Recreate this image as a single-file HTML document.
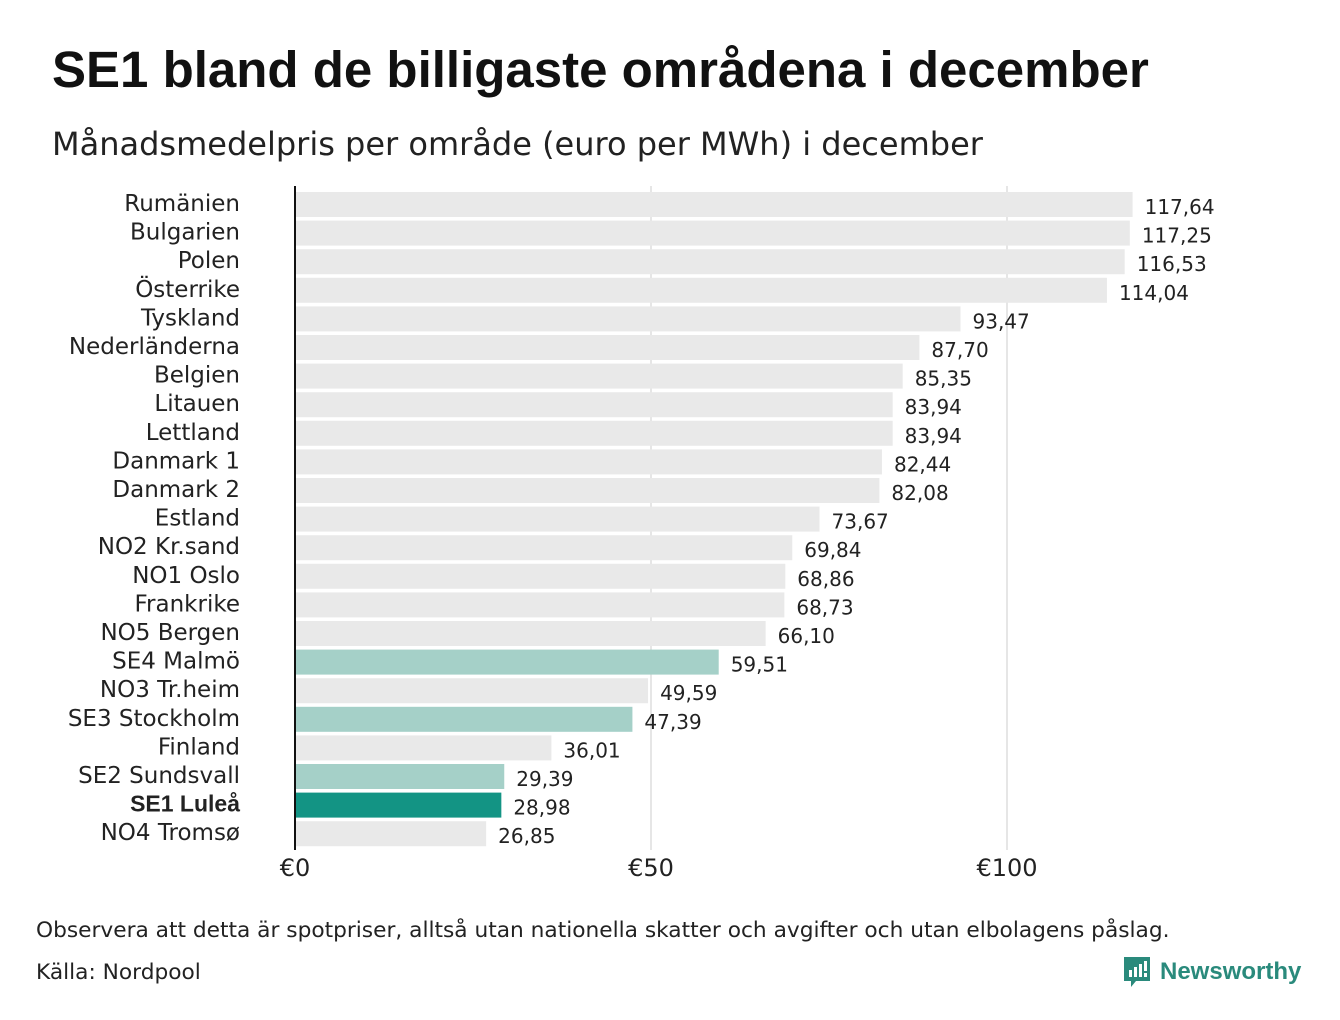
<!DOCTYPE html>
<html><head><meta charset="utf-8"><style>
body{margin:0;width:1340px;height:1020px;background:#fff;font-family:"DejaVu Sans","Liberation Sans",sans-serif;overflow:hidden}
#title{position:absolute;left:52px;top:40px;font:bold 51px "Liberation Sans",sans-serif;color:#111;margin:0}
#sub{position:absolute;left:52px;top:125px;font-size:32px;color:#222}
#note{position:absolute;left:36px;top:918px;font-size:21.7px;color:#222}
#src{position:absolute;left:36px;top:960px;font-size:21.7px;color:#222}
#logo{position:absolute;left:1122px;top:955px;display:flex;align-items:center}
#logo span{font:bold 24px "Liberation Sans",sans-serif;color:#2a8a7c;margin-left:8px}
</style></head><body>
<h1 id="title">SE1 bland de billigaste områdena i december</h1>
<div id="sub">Månadsmedelpris per område (euro per MWh) i december</div>
<svg id="chart" width="1340" height="1020" style="position:absolute;left:0;top:0"></svg>
<div id="note">Observera att detta är spotpriser, alltså utan nationella skatter och avgifter och utan elbolagens påslag.</div>
<div id="src">Källa: Nordpool</div>
<div id="logo">
<svg width="30" height="34" viewBox="0 0 30 34"><path d="M2 2h26v24H14l-5 6v-6H2z" fill="#2a8a7c"/><rect x="7" y="15" width="3" height="7" fill="#fff"/><rect x="12" y="12" width="3" height="10" fill="#fff"/><rect x="17" y="9" width="3" height="13" fill="#fff"/><rect x="22" y="6" width="3" height="10" fill="#fff"/><rect x="22" y="18" width="3" height="4" fill="#fff"/></svg>
<span>Newsworthy</span></div>
<script>
const categories=["Rumänien","Bulgarien","Polen","Österrike","Tyskland","Nederländerna","Belgien","Litauen","Lettland","Danmark 1","Danmark 2","Estland","NO2 Kr.sand","NO1 Oslo","Frankrike","NO5 Bergen","SE4 Malmö","NO3 Tr.heim","SE3 Stockholm","Finland","SE2 Sundsvall","SE1 Luleå","NO4 Tromsø"];
const values=[117.64,117.25,116.53,114.04,93.47,87.70,85.35,83.94,83.94,82.44,82.08,73.67,69.84,68.86,68.73,66.10,59.51,49.59,47.39,36.01,29.39,28.98,26.85];
const tickValues=[0,50,100];
const tickLabels=["€0","€50","€100"];
const svg=document.getElementById('chart');const NS="http://www.w3.org/2000/svg";
const x=v=>295+v*7.12;const y=i=>192+i*28.6;
function mk(t,a){const e=document.createElementNS(NS,t);for(const k in a)e.setAttribute(k,a[k]);svg.appendChild(e);return e;}
tickValues.forEach((t,i)=>{
 if(t>0){const g=mk('line',{x1:x(t),x2:x(t),y1:186,y2:850,stroke:'#ccc','stroke-width':1});
 
 }
 const l=mk('text',{x:x(t),y:876,'text-anchor':'middle','font-size':24,fill:'#222'});l.textContent=tickLabels[i];
 
 
});
categories.forEach((c,i)=>{
 let col='#e9e9e9';
 if(c.startsWith('SE1'))col='#139484';else if(c.startsWith('SE'))col='#a5d0c8';
 const b=mk('rect',{x:x(0),y:y(i),width:x(values[i])-x(0),height:25,fill:col});
 
 
 const l=mk('text',{x:240,y:y(i)+19,'text-anchor':'end','font-size':23,fill:'#222'});
 l.textContent=c;
 if(c.startsWith('SE1')){l.setAttribute('font-weight','bold');l.setAttribute('font-family','Liberation Sans, sans-serif');}
 
 
 const v=mk('text',{x:x(values[i])+12,y:y(i)+22,'font-size':20,fill:'#222'});
 v.textContent=values[i].toFixed(2).replace('.',',');
 
 
});
const ax=mk('line',{x1:295,x2:295,y1:186,y2:850,stroke:'#111','stroke-width':2});


</script>
</body></html>
